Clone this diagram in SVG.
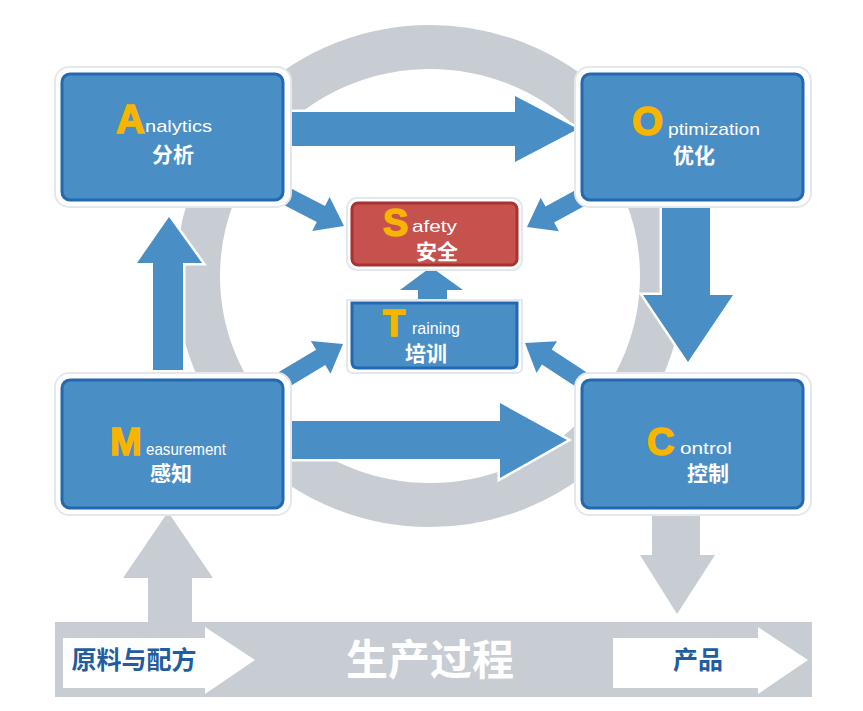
<svg xmlns="http://www.w3.org/2000/svg" width="863" height="711" viewBox="0 0 863 711">
<style>
.ring{fill:none;stroke:#c7cdd3;stroke-width:44}
.halo{fill:#fff;stroke:#e4e7eb;stroke-width:2}
.box{fill:#4a8ec6;stroke:#2368b0;stroke-width:3}
.red{fill:#c6524e;stroke:#a8322f;stroke-width:3}
.arr{fill:#4a8ec6;stroke:#fff;stroke-width:5;paint-order:stroke;stroke-linejoin:miter}
.gray{fill:#c7cdd3}
.big{font-family:"Liberation Sans",Arial,sans-serif;font-weight:bold;fill:#f7b500;stroke:#f7b500;stroke-width:1.5}
.sm{font-family:"Liberation Sans",Arial,sans-serif;font-size:17px;fill:#fff}
.cn{font-family:"Noto Sans CJK SC","Noto Sans",sans-serif;font-size:21px;font-weight:bold;fill:#fff}
.bar{font-family:"Noto Sans CJK SC","Noto Sans",sans-serif;font-weight:bold}
</style>
<rect width="863" height="711" fill="#fff"/>
<ellipse class="ring" cx="430" cy="276" rx="232" ry="229"/>

<g id="connectors">
  <polygon class="arr" points="290,112 515,112 515,96 578,129 515,162 515,146 290,146"/>
  <polygon class="arr" points="290,421 500,421 500,403 567,440 500,478 500,459 290,459"/>
  <polygon class="arr" points="153,370 153,263 137,263 169,217 202,263 183,263 183,370"/>
  <polygon class="arr" points="662,200 662,295 643,295 688,362 733,295 710,295 710,200"/>
  <polygon class="arr" points="292.1,189 325,206 329.6,197.1 344,226 312.2,230.9 316.8,222 283.9,205"/>
  <polygon class="arr" points="575.7,190.1 545.5,206.6 540.7,197.8 527,227 558.9,231.2 554.1,222.4 584.3,205.9"/>
  <polygon class="arr" points="278.4,372.3 316.1,349.7 310.9,341.1 343,344 330.5,373.7 325.3,365.1 287.6,387.7"/>
  <polygon class="arr" points="586.9,372.5 551.7,349.6 557.1,341.2 525,343 536.5,373 541.9,364.6 577.1,387.5"/>
  <polygon class="arr" points="418,303 418,290 400,290 431,267 463,290 447,290 447,303"/>
  <polygon class="gray" points="148,624 148,578 123,578 168,512 213,578 192,578 192,624"/>
  <polygon class="gray" points="652,508 652,555 640,555 677,614 715,555 700,555 700,508"/>
</g>

<g id="analytics">
  <rect class="halo" x="55" y="67" width="236" height="140" rx="14"/>
  <rect class="box" x="62" y="74" width="221" height="126" rx="8"/>
  <text class="big" x="116" y="133" font-size="40">A</text>
  <text class="sm" x="145" y="132" textLength="67" lengthAdjust="spacingAndGlyphs">nalytics</text>
  <text class="cn" x="173" y="162" text-anchor="middle">分析</text>
</g>

<g id="optimization">
  <rect class="halo" x="575" y="67" width="236" height="140" rx="14"/>
  <rect class="box" x="582" y="74" width="221" height="126" rx="8"/>
  <text class="big" x="632" y="135" font-size="40">O</text>
  <text class="sm" x="668" y="135" textLength="92" lengthAdjust="spacingAndGlyphs">ptimization</text>
  <text class="cn" x="694" y="163" text-anchor="middle">优化</text>
</g>

<g id="measurement">
  <rect class="halo" x="55" y="373" width="236" height="142" rx="14"/>
  <rect class="box" x="62" y="380" width="221" height="128" rx="8"/>
  <text class="big" x="110" y="455" font-size="38">M</text>
  <text class="sm" x="146" y="455" textLength="80" lengthAdjust="spacingAndGlyphs">easurement</text>
  <text class="cn" x="171" y="481" text-anchor="middle">感知</text>
</g>

<g id="control">
  <rect class="halo" x="575" y="373" width="236" height="142" rx="14"/>
  <rect class="box" x="582" y="380" width="221" height="128" rx="8"/>
  <text class="big" x="647" y="455" font-size="38">C</text>
  <text class="sm" x="680" y="454" textLength="52" lengthAdjust="spacingAndGlyphs">ontrol</text>
  <text class="cn" x="708" y="481" text-anchor="middle">控制</text>
</g>

<g id="safety">
  <rect class="halo" x="347" y="198" width="175" height="72" rx="10"/>
  <rect class="red" x="352" y="203" width="165" height="62" rx="6"/>
  <text class="big" x="383" y="236" font-size="38">S</text>
  <text class="sm" x="412" y="232" textLength="45" lengthAdjust="spacingAndGlyphs">afety</text>
  <text class="cn" x="437" y="259" text-anchor="middle" font-size="18">安全</text>
</g>

<g id="training">
  <path d="M347,300 H522 V367 Q522,373 516,373 H353 Q347,373 347,367 Z" fill="#fff" stroke="#e4e7eb" stroke-width="2"/>
  <path d="M352,303 H517 V362 Q517,368 511,368 H358 Q352,368 352,362 Z" fill="#4a8ec6" stroke="#2368b0" stroke-width="3"/>
  <text class="big" x="383" y="336" font-size="36">T</text>
  <text class="sm" x="412" y="334" textLength="48" lengthAdjust="spacingAndGlyphs">raining</text>
  <text class="cn" x="426" y="361" text-anchor="middle" font-size="19">培训</text>
</g>

<g id="process">
  <rect class="gray" x="55" y="622" width="757" height="75"/>
  <polygon points="63,638 205,638 205,627 255,660 205,694 205,688 63,688" fill="#fff"/>
  <text class="bar" x="134" y="669" font-size="25" fill="#1f5d9e" text-anchor="middle">原料与配方</text>
  <text class="bar" x="430" y="675" font-size="42" fill="#fff" text-anchor="middle">生产过程</text>
  <polygon points="613,638 758,638 758,627 808,660 758,694 758,688 613,688" fill="#fff"/>
  <text class="bar" x="698" y="669" font-size="25" fill="#1f5d9e" text-anchor="middle">产品</text>
</g>
</svg>
